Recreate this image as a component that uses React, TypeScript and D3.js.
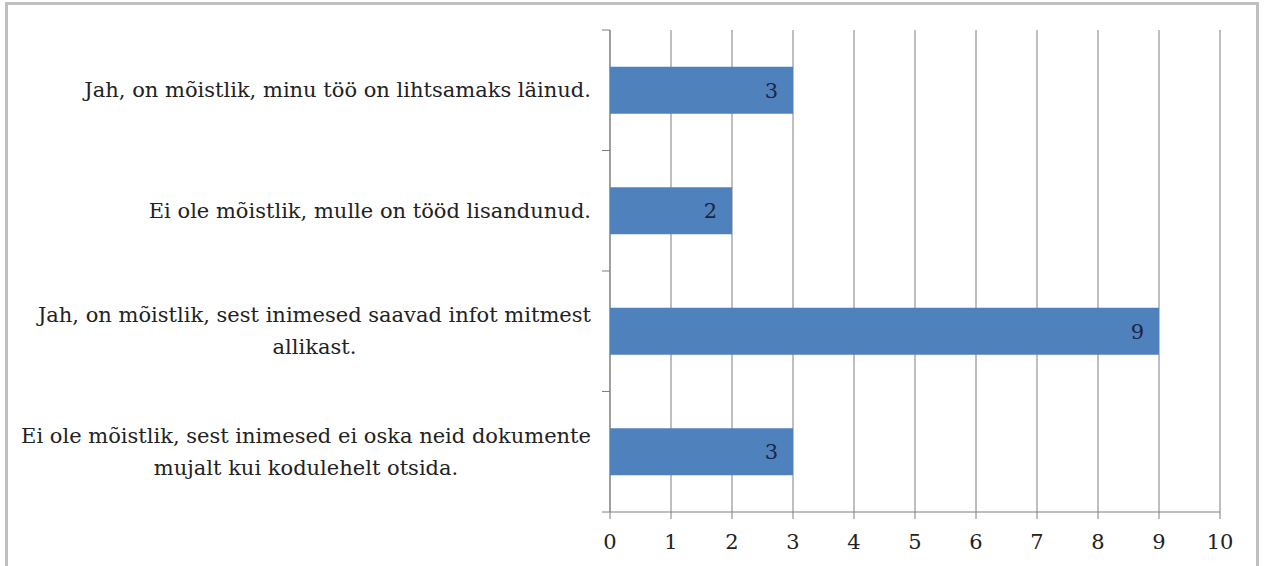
import React from "react";
import * as d3 from "d3";

const categories: string[][] = [
  ["Jah, on mõistlik, minu töö on lihtsamaks läinud."],
  ["Ei ole mõistlik, mulle on tööd lisandunud."],
  ["Jah, on mõistlik, sest inimesed saavad infot mitmest", "allikast."],
  ["Ei ole mõistlik, sest inimesed ei oska neid dokumente", "mujalt kui kodulehelt otsida."],
];
const values: number[] = [3, 2, 9, 3];
const xTicks: number[] = [0, 1, 2, 3, 4, 5, 6, 7, 8, 9, 10];

const W = 1265;
const H = 566;
const FONT = "'DejaVu Serif', serif";
const FS = 21;

let ctx: CanvasRenderingContext2D | null = null;
function measure(s: string): number {
  if (!ctx && typeof document !== "undefined") {
    ctx = document.createElement("canvas").getContext("2d");
  }
  if (!ctx) return s.length * FS * 0.5;
  ctx.font = `${FS}px 'DejaVu Serif', serif`;
  return ctx.measureText(s).width;
}

export default function App() {
  const x = d3.scaleLinear().domain([0, 10]).range([610, 1220]);
  const y = d3
    .scaleBand<number>()
    .domain(d3.range(categories.length))
    .range([30, 512])
    .paddingInner(0.61)
    .paddingOuter(0.305);
  const bandEdges = d3.range(categories.length + 1).map((i) => 30 + (i * (512 - 30)) / categories.length);
  const lineH = 32;
  const labelRight = 591;

  return (
    <svg
      width={W}
      height={H}
      style={{ position: "absolute", left: 0, top: 0, background: "#fff", fontFamily: FONT }}
    >
      <rect x={6.5} y={3.5} width={1251} height={570} fill="#fff" stroke="#c0c0c0" strokeWidth={3} />
      {xTicks.map((t) => (
        <line key={"g" + t} x1={x(t)} x2={x(t)} y1={30} y2={519} stroke="#7f7f7f" strokeWidth={1} />
      ))}
      <line x1={x(0)} x2={x(0)} y1={30} y2={512} stroke="#7f7f7f" strokeWidth={1} />
      {bandEdges.map((b, i) => (
        <line key={"yt" + i} x1={602} x2={x(0)} y1={b} y2={b} stroke="#7f7f7f" strokeWidth={1} />
      ))}
      <line x1={x(0)} x2={x(10)} y1={512} y2={512} stroke="#7f7f7f" strokeWidth={1} />
      {xTicks.map((t) => (
        <text key={"xl" + t} x={x(t)} y={549} textAnchor="middle" fontSize={FS} fill="#222">
          {t}
        </text>
      ))}
      {values.map((v, i) => (
        <g key={"b" + i}>
          <rect x={x(0)} y={y(i)!} width={x(v) - x(0)} height={y.bandwidth()} fill="#4f81bd" />
          <text
            x={x(v) - 15}
            y={y(i)! + y.bandwidth() / 2 + 7.5}
            textAnchor="end"
            fontSize={FS}
            fill="#1b2444"
          >
            {v}
          </text>
        </g>
      ))}
      {categories.map((lines, i) => {
        const cy = y(i)! + y.bandwidth() / 2;
        const first = cy - ((lines.length - 1) * lineH) / 2;
        const wMax = Math.max(...lines.map(measure));
        const cx = labelRight - wMax / 2;
        return (
          <text key={"c" + i} fontSize={FS} fill="#222" textAnchor="middle">
            {lines.map((l, j) => (
              <tspan key={j} x={cx} y={first + j * lineH + 7}>
                {l}
              </tspan>
            ))}
          </text>
        );
      })}
    </svg>
  );
}
